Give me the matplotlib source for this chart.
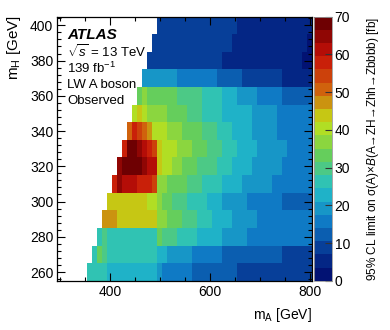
import numpy as np
import matplotlib
matplotlib.use("Agg")
import matplotlib.pyplot as plt
from matplotlib.colors import LinearSegmentedColormap, ListedColormap, BoundaryNorm
from matplotlib.ticker import MultipleLocator

plt.rcParams['font.family'] = ['Liberation Sans', 'DejaVu Sans']
plt.rcParams['mathtext.fontset'] = 'custom'
plt.rcParams['mathtext.rm'] = 'Liberation Sans'
plt.rcParams['mathtext.it'] = 'Liberation Sans:italic'
plt.rcParams['mathtext.bf'] = 'Liberation Sans:bold'

# bin centres (GeV)
m_A = np.arange(300, 801, 10)
m_H = np.arange(260, 401, 10)

# observed limit [fb], one list per m_H row, starting at the first filled m_A bin
limit_260 = [26, 26, 26, 26, 23, 23, 23, 23, 23, 23, 23, 23, 23, 23, 19, 16, 16, 16, 16, 16, 16,
             12, 12, 12, 12, 12, 12, 12, 12, 12, 9, 9, 9, 9, 9, 9, 9, 9, 9, 9, 9, 9, 9, 9, 9]
limit_270 = [26, 33, 30, 26, 26, 26, 26, 26, 26, 26, 26, 26, 26, 23, 23, 19, 19, 19, 19, 19, 16,
             16, 16, 16, 16, 16, 12, 12, 12, 12, 12, 12, 12, 12, 12, 12, 12, 12, 9, 9, 9, 9, 9, 9]
limit_280 = [26, 30, 26, 26, 26, 26, 26, 26, 26, 26, 26, 26, 33, 30, 30, 30, 26, 26, 26, 26, 23,
             23, 23, 23, 23, 19, 19, 19, 19, 19, 16, 16, 16, 16, 16, 16, 16, 16, 16, 16, 16, 16, 16]
limit_290 = [47, 47, 47, 44, 44, 44, 44, 44, 44, 44, 44, 37, 37, 33, 33, 33, 30, 30, 30, 26, 26,
             26, 23, 23, 23, 23, 19, 19, 19, 19, 19, 16, 16, 16, 16, 16, 16, 16, 16, 16, 16, 16]
limit_300 = [44, 44, 44, 44, 44, 44, 44, 44, 40, 40, 37, 33, 33, 30, 30, 30, 26, 26, 26, 26, 23,
             23, 23, 19, 19, 19, 19, 19, 16, 16, 16, 16, 16, 16, 16, 12, 12, 12, 12, 12, 12]
limit_310 = [58, 65, 61, 61, 61, 58, 58, 58, 54, 37, 37, 33, 33, 33, 33, 30, 30, 30, 26, 26, 26,
             26, 23, 23, 23, 23, 19, 19, 19, 19, 19, 19, 16, 16, 16, 16, 16, 16, 16, 16]
limit_320 = [65, 68, 68, 68, 68, 65, 61, 61, 44, 40, 40, 37, 37, 33, 33, 33, 30, 30, 30, 30, 26,
             26, 26, 23, 23, 23, 23, 19, 19, 19, 19, 19, 19, 16, 16, 16, 16, 16, 16]
limit_330 = [58, 68, 68, 65, 61, 58, 54, 44, 40, 40, 40, 37, 37, 37, 33, 33, 33, 30, 30, 30, 26,
             26, 26, 23, 23, 23, 23, 19, 19, 19, 19, 19, 19, 16, 16, 16, 16, 16]
limit_340 = [51, 58, 54, 51, 47, 40, 40, 40, 37, 37, 37, 33, 33, 33, 33, 30, 30, 30, 26, 26, 26,
             23, 23, 23, 23, 19, 19, 19, 19, 19, 16, 16, 16, 16, 16, 16, 16]
limit_350 = [40, 44, 40, 37, 37, 37, 37, 33, 33, 33, 33, 30, 30, 30, 26, 26, 26, 26, 23, 23, 23,
             23, 23, 23, 19, 19, 19, 19, 19, 16, 16, 16, 16, 16, 16, 16]
limit_360 = [33, 37, 33, 33, 33, 33, 33, 33, 30, 30, 30, 30, 30, 26, 26, 26, 26, 23, 23, 23, 19,
             19, 19, 19, 16, 16, 16, 16, 16, 12, 12, 12, 12, 12, 12]
limit_370 = [19, 19, 19, 19, 19, 19, 19, 16, 16, 16, 16, 16, 16, 16, 16, 12, 12, 12, 12, 12, 9,
             9, 9, 9, 9, 9, 9, 9, 5, 5, 5, 5, 5, 5]
limit_380 = [9, 9, 9, 9, 9, 9, 9, 9, 9, 9, 9, 9, 9, 9, 9, 5, 5, 5, 5, 5, 5, 5, 5, 5, 5, 5, 5, 5,
             5, 5, 5, 2, 2]
limit_390 = [9, 9, 9, 9, 9, 9, 9, 9, 9, 9, 9, 9, 9, 9, 9, 9, 5, 5, 5, 5, 5, 5, 5, 5, 5, 5, 5, 5,
             5, 5, 5, 2]
limit_400 = [9, 9, 9, 9, 9, 9, 9, 9, 9, 9, 9, 9, 9, 9, 9, 9, 5, 5, 5, 5, 5, 5, 5, 5, 5, 5, 5, 5,
             5, 5, 5]

rows = [limit_260, limit_270, limit_280, limit_290, limit_300, limit_310, limit_320, limit_330,
        limit_340, limit_350, limit_360, limit_370, limit_380, limit_390, limit_400]

# pad each row with empty bins on the left so it lines up with m_A
grid = np.full((len(m_H), len(m_A)), np.nan)
for i, r in enumerate(rows):
    grid[i, len(m_A) - len(r):] = r

# ROOT kRainBow-like palette, 20 contour levels
red = [0, 5, 15, 35, 102, 196, 208, 199, 110]
green = [0, 48, 124, 192, 206, 226, 97, 16, 0]
blue = [99, 142, 198, 201, 90, 22, 13, 8, 2]
stops = np.linspace(0, 1, len(red))
base = LinearSegmentedColormap.from_list(
    "rainbow_root", [(s, (r / 255, g / 255, b / 255)) for s, r, g, b in zip(stops, red, green, blue)])
n_levels = 20
cmap = ListedColormap([base((i + 0.99) / n_levels) for i in range(n_levels)])
cmap.set_bad('white')
norm = BoundaryNorm(np.linspace(0, 70, n_levels + 1), n_levels)

fig = plt.figure(figsize=(3.9, 3.3), dpi=100)
ax = fig.add_axes([0.1474, 0.149, 0.6538, 0.801])

x_edges = np.append(m_A - 5, m_A[-1] + 5)
y_edges = np.append(m_H - 5, m_H[-1] + 5)
mesh = ax.pcolormesh(x_edges, y_edges, np.ma.masked_invalid(grid), cmap=cmap, norm=norm)

ax.set_xlim(295, 805)
ax.set_ylim(255, 405)
ax.xaxis.set_major_locator(MultipleLocator(200))
ax.xaxis.set_minor_locator(MultipleLocator(50))
ax.yaxis.set_major_locator(MultipleLocator(20))
ax.yaxis.set_minor_locator(MultipleLocator(4))
ax.tick_params(which='both', direction='in', top=True, right=True, labelsize=10, pad=3)
ax.tick_params(which='major', length=6, width=0.8)
ax.tick_params(which='minor', length=3, width=0.8)
for sp in ax.spines.values():
    sp.set_linewidth(0.9)

# colour bar
cax = fig.add_axes([0.805, 0.149, 0.046, 0.801])
cbar = fig.colorbar(mesh, cax=cax, ticks=range(0, 71, 10))
cbar.outline.set_edgecolor('0.6')
cbar.outline.set_linewidth(0.6)
cax.tick_params(direction='in', length=5, width=0.8, labelsize=10, pad=2, color='0.2')
cax.minorticks_off()

# axis titles
fig.text(14 / 390, 1 - 15 / 330, r'm$_\mathregular{H}$ [GeV]', rotation=90, ha='center', va='top', fontsize=11)
fig.text(312 / 390, 1 - 315 / 330, r'm$_\mathregular{A}$ [GeV]', ha='right', va='center', fontsize=10)
fig.text(373 / 390, 1 - 17 / 330,
         r'95% CL limit on σ(A)×$\mathit{B}$(A→ZH→Zhh→Zbbbb) [fb]',
         rotation=90, ha='center', va='top', fontsize=8.5)

# labels
tx = 67 / 390
fig.text(tx, 1 - 39 / 330, 'ATLAS', fontsize=11, fontweight='bold', fontstyle='italic', va='baseline')
fig.text(tx, 1 - 52 / 330, r'$\sqrt{s}$ = 13 TeV', fontsize=9.5, va='center')
fig.text(tx, 1 - 68 / 330, r'139 fb$^{-1}$', fontsize=9.5, va='center')
fig.text(tx, 1 - 85 / 330, 'LW A boson', fontsize=9.5, va='center')
fig.text(tx, 1 - 101 / 330, 'Observed', fontsize=9.5, va='center')

fig.savefig('out.png', dpi=100)
